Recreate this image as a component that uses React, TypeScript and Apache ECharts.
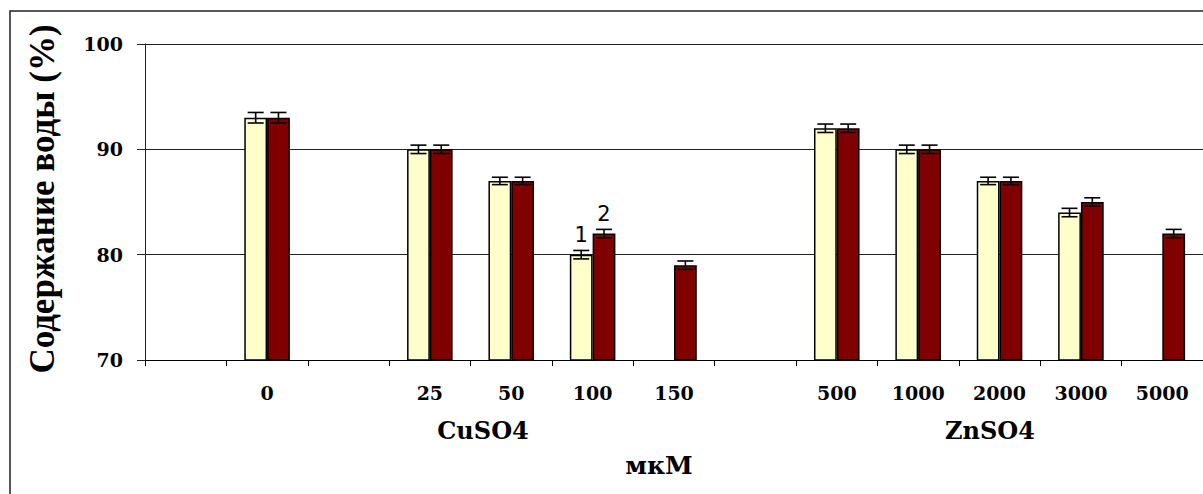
import React, { useEffect, useRef } from "react";
import * as echarts from "echarts";

// Concentrations (µM); empty strings are spacer slots between groups
const categories = ["", "0", "", "25", "50", "100", "150", "", "500", "1000", "2000", "3000", "5000"];
// Water content (%), series 1 (light) and series 2 (dark)
const series1 = [null, 93, null, 90, 87, 80, null, null, 92, 90, 87, 84, null];
const series2 = [null, 93, null, 90, 87, 82, 79, null, 92, 90, 87, 85, 82];
// Error (± %)
const errors1 = [null, 0.5, null, 0.4, 0.35, 0.4, null, null, 0.4, 0.4, 0.35, 0.4, null];
const errors2 = [null, 0.5, null, 0.4, 0.35, 0.4, 0.4, null, 0.4, 0.4, 0.35, 0.4, 0.4];
const yTicks = { min: 70, max: 100, interval: 10 };

const LIGHT = "#FFFFCC";
const DARK = "#800000";
const GAP = 0.44;

function errData(values: (number | null)[], errs: (number | null)[]) {
  const out: number[][] = [];
  values.forEach((v, i) => {
    if (v != null && errs[i] != null) out.push([i, v, errs[i] as number]);
  });
  return out;
}

function errorRenderer(side: number) {
  return (params: any, api: any) => {
    const idx = api.value(0);
    const v = api.value(1);
    const e = api.value(2);
    const band = api.size([1, 0])[0];
    const barW = (band * (1 - GAP)) / 2;
    const hi = api.coord([idx, v + e]);
    const lo = api.coord([idx, v - e]);
    const cx = hi[0] + (side * barW) / 2;
    const half = 8;
    const style = { stroke: "#000", lineWidth: 1.6 };
    return {
      type: "group",
      children: [
        { type: "line", shape: { x1: cx, y1: hi[1], x2: cx, y2: lo[1] }, style },
        { type: "line", shape: { x1: cx - half, y1: hi[1], x2: cx + half, y2: hi[1] }, style },
        { type: "line", shape: { x1: cx - half, y1: lo[1], x2: cx + half, y2: lo[1] }, style },
      ],
    };
  };
}

function withMarker(values: (number | null)[], markIdx: number, text: string) {
  return values.map((v, i) =>
    i === markIdx && v != null
      ? {
          value: v,
          label: {
            show: true,
            position: "top",
            distance: 9,
            formatter: text,
            fontFamily: "DejaVu Sans",
            fontSize: 21,
            color: "#000",
          },
        }
      : v
  );
}

export default function App() {
  const ref = useRef<HTMLDivElement>(null);

  useEffect(() => {
    if (!ref.current) return;
    const chart = echarts.init(ref.current, null, { renderer: "svg" });
    const serif = "DejaVu Serif";
    const times = "'Liberation Serif', 'Times New Roman', serif";
    chart.setOption({
      animation: false,
      backgroundColor: "#fff",
      grid: { left: 145, top: 44, bottom: 134, width: 1061, containLabel: false },
      xAxis: {
        type: "category",
        data: categories,
        axisLine: { lineStyle: { color: "#000", width: 1 } },
        axisTick: { show: true, interval: 0, length: 6, lineStyle: { color: "#000" } },
        axisLabel: {
          interval: 0,
          margin: 23,
          fontFamily: serif,
          fontWeight: "bold",
          fontSize: 19,
          color: "#000",
        },
      },
      yAxis: {
        type: "value",
        min: yTicks.min,
        max: yTicks.max,
        interval: yTicks.interval,
        axisLine: { show: true, lineStyle: { color: "#222", width: 1 } },
        axisTick: { show: true, length: 8, lineStyle: { color: "#222" } },
        splitLine: { show: true, lineStyle: { color: "#222", width: 1 } },
        axisLabel: {
          margin: 22,
          fontFamily: serif,
          fontWeight: "bold",
          fontSize: 19,
          color: "#000",
        },
      },
      series: [
        {
          type: "bar",
          name: "1",
          data: withMarker(series1, 5, "1"),
          barGap: "0%",
          barCategoryGap: "44%",
          itemStyle: { color: LIGHT, borderColor: "#000", borderWidth: 1.5 },
        },
        {
          type: "bar",
          name: "2",
          data: withMarker(series2, 5, "2"),
          barGap: "0%",
          barCategoryGap: "44%",
          itemStyle: { color: DARK, borderColor: "#000", borderWidth: 1.5 },
        },
        {
          type: "custom",
          renderItem: errorRenderer(-1),
          data: errData(series1, errors1),
          z: 5,
        },
        {
          type: "custom",
          renderItem: errorRenderer(1),
          data: errData(series2, errors2),
          z: 5,
        },
      ],
      graphic: [
        {
          type: "rect",
          shape: { x: 10, y: 11, width: 1400, height: 700 },
          style: { fill: "none", stroke: "#222", lineWidth: 1.5 },
          silent: true,
        },
        {
          type: "text",
          x: 42,
          y: 199,
          rotation: Math.PI / 2,
          style: {
            text: "Содержание воды (%)",
            fontFamily: times,
            fontWeight: "bold",
            fontSize: 35,
            fill: "#000",
            align: "center",
            verticalAlign: "middle",
          },
        },
        {
          type: "text",
          x: 483,
          y: 430,
          style: {
            text: "CuSO4",
            fontFamily: serif,
            fontWeight: "bold",
            fontSize: 24,
            fill: "#000",
            align: "center",
            verticalAlign: "middle",
          },
        },
        {
          type: "text",
          x: 990,
          y: 430,
          style: {
            text: "ZnSO4",
            fontFamily: serif,
            fontWeight: "bold",
            fontSize: 24,
            fill: "#000",
            align: "center",
            verticalAlign: "middle",
          },
        },
        {
          type: "text",
          x: 659,
          y: 465,
          style: {
            text: "мкМ",
            fontFamily: serif,
            fontWeight: "bold",
            fontSize: 25,
            fill: "#000",
            align: "center",
            verticalAlign: "middle",
          },
        },
      ],
    });
    return () => chart.dispose();
  }, []);

  return (
    <div
      ref={ref}
      style={{ position: "absolute", left: 0, top: 0, width: 1203, height: 494, overflow: "hidden" }}
    />
  );
}
